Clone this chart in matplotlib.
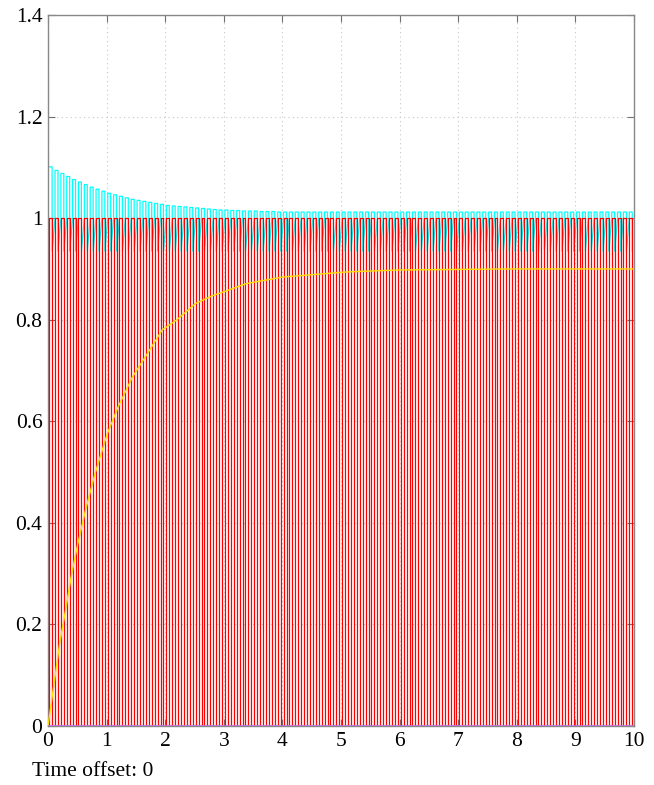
import numpy as np
import matplotlib
matplotlib.use("Agg")
from matplotlib import pyplot as plt

# PWM gate signal (red): one pulse every period
PWM_PERIOD = 0.1
PWM_RISE = 0.02
PWM_FALL = 0.07
N_PULSES = 100

# cyan signal: top value of each period (decays to ~1.012), dip after each fall
CYAN_TOP = [1.101, 1.094, 1.088, 1.082, 1.076, 1.071, 1.066, 1.061, 1.057, 1.053,
            1.049, 1.046, 1.043, 1.040, 1.037, 1.035, 1.033, 1.031, 1.029, 1.027,
            1.025, 1.024, 1.023, 1.022, 1.021, 1.020, 1.019, 1.018, 1.017, 1.016,
            1.016, 1.015, 1.015, 1.014, 1.014, 1.014, 1.013, 1.013, 1.013, 1.012] + [1.012] * 60
CYAN_DIP = 0.935
CYAN_BACK = 1.0

# yellow output: rises to 0.9
OUT_T = [0, 0.13, 0.2, 0.3, 0.4, 0.5, 0.64, 0.8, 1.01, 1.2, 1.44, 1.7, 1.95,
         2.2, 2.52, 2.8, 3.0, 3.38, 4.0, 5.09, 6.0, 7.0, 8.0, 9.0, 10.0]
OUT_V = [0, 0.105, 0.163, 0.228, 0.297, 0.354, 0.425, 0.496, 0.575, 0.629,
         0.687, 0.734, 0.78, 0.80, 0.832, 0.847, 0.855, 0.871, 0.884, 0.894,
         0.898, 0.899, 0.9, 0.9, 0.9]

XTICKS = [0, 1, 2, 3, 4, 5, 6, 7, 8, 9, 10]
YTICKS = [0, 0.2, 0.4, 0.6, 0.8, 1, 1.2, 1.4]
YTICK_LABELS = ['0', '0.2', '0.4', '0.6', '0.8', '1', '1.2', '1.4']

plt.rcParams['font.family'] = ['Liberation Serif', 'DejaVu Serif']

fig = plt.figure(figsize=(6.54, 7.85), dpi=100)
ax = fig.add_axes([48 / 654, 59 / 785, 586 / 654, 711 / 785])

# build step waveforms, cyan edges sit on the red edges
starts = np.arange(N_PULSES) * PWM_PERIOD
rx, ry, cx, cy = [], [], [], []
for k, t0 in enumerate(starts):
    rx += [t0, t0 + PWM_RISE, t0 + PWM_RISE, t0 + PWM_FALL, t0 + PWM_FALL, t0 + PWM_PERIOD]
    ry += [0, 0, 1, 1, 0, 0]
    if k == 0:
        cx += [t0]
        cy += [CYAN_TOP[k]]
    else:
        cx += [t0 + PWM_RISE, t0 + PWM_RISE]
        cy += [CYAN_BACK, CYAN_TOP[k]]
    cx += [t0 + PWM_FALL, t0 + PWM_FALL]
    cy += [CYAN_TOP[k], CYAN_DIP]

ax.plot(cx, cy, color='#00ffff', lw=0.9, zorder=2)
ax.plot(rx, ry, color='#ff0000', lw=0.9, zorder=3)
ax.plot(OUT_T, OUT_V, color='#ffdd00', lw=1.0, zorder=4)
ax.axhline(0, color='#c070e8', lw=1.2, zorder=5)

ax.set_xlim(0, 10)
ax.set_ylim(0, 1.4)
ax.set_xticks(XTICKS)
ax.set_yticks(YTICKS)
ax.set_yticklabels(YTICK_LABELS)
ax.grid(True, color='#c8c8c8', linestyle=(0, (1, 3)), lw=0.8)
ax.set_axisbelow(True)
ax.tick_params(direction='in', length=5, width=0.8, color='#707070',
               top=True, right=True, labelsize=15.5, pad=4)
for s in ax.spines.values():
    s.set_color('#888888')
    s.set_linewidth(1.0)

fig.text(32 / 654, 1 - 772 / 785, 'Time offset: 0', fontsize=15.5, va='center', ha='left')

fig.savefig('out.png', dpi=100)
